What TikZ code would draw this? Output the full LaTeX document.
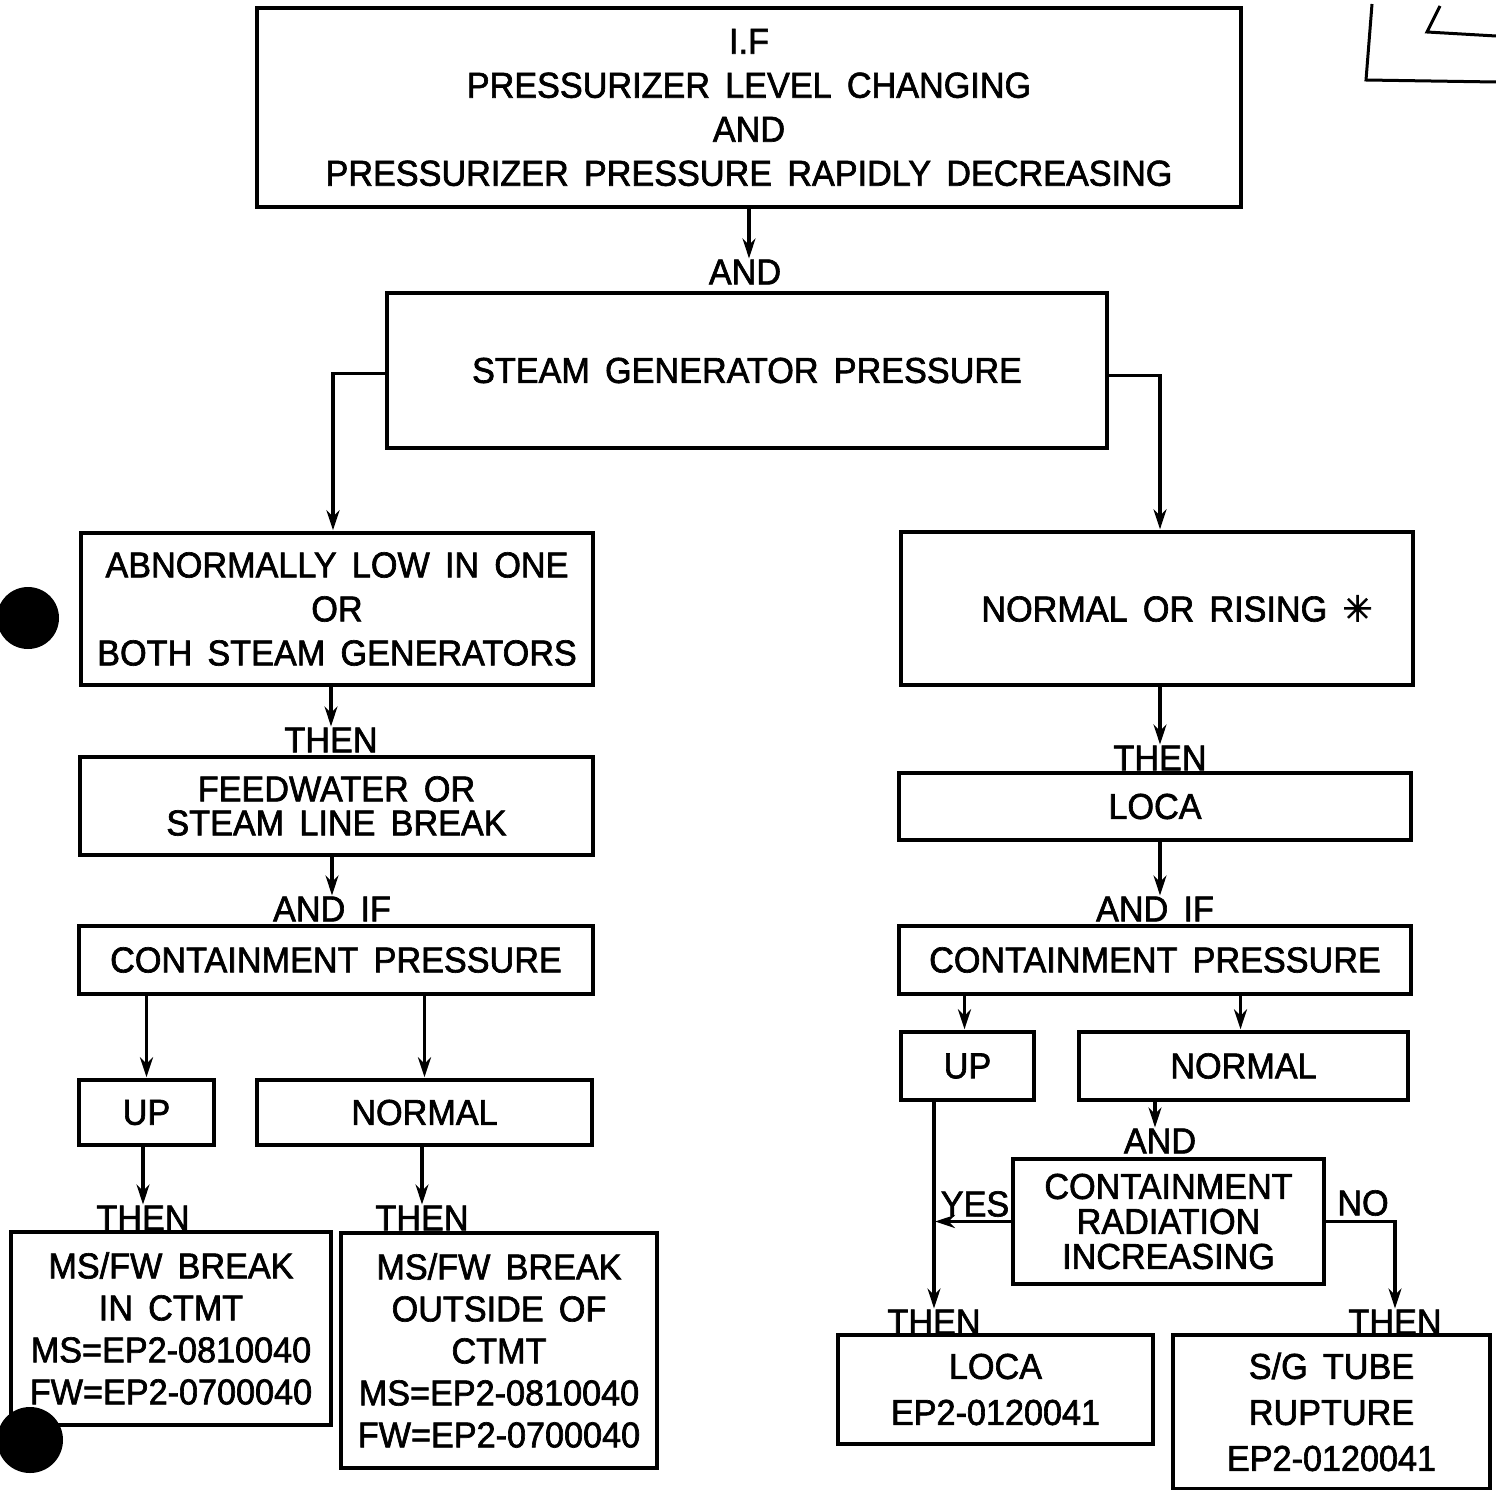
\documentclass[tikz,border=0pt]{standalone}
\usepackage{fontspec}
\setmainfont{Liberation Sans}[FakeStretch=0.95, FakeBold=1.8, WordSpace=1.6]
\newfontfamily\symfont{DejaVu Sans}[FakeBold=2]
\usetikzlibrary{arrows.meta}
\newcommand\dgfont{\fontsize{36}{44}\selectfont}
\begin{document}
\begin{tikzpicture}[x=1pt,y=-1pt,
  box/.style={draw, line width=3.4pt, inner sep=0pt, align=center, font=\dgfont},
  lbl/.style={inner sep=0pt, font=\dgfont},
  arr/.style={line width=3.2pt, -{Stealth[length=20pt,width=13pt]}, shorten >=1pt},
  ln/.style={line width=3.2pt},
  blob/.style={fill=black}]
\useasboundingbox (0,0) rectangle (1496,1490);
% top
\node[box, minimum width=984pt, minimum height=199pt] (top) at (749,107.5)
  {I.F\\PRESSURIZER LEVEL CHANGING\\AND\\PRESSURIZER PRESSURE RAPIDLY DECREASING};
\node[lbl] (and1) at (745,272) {AND};
\node[box, minimum width=720pt, minimum height=155pt] (sg) at (747,370.5) {STEAM GENERATOR PRESSURE};
\draw[arr] (top.south) -- (top.south |- and1.north);
% left branch
\node[box, minimum width=512pt, minimum height=152pt] (l1) at (337,609)
  {ABNORMALLY LOW IN ONE\\OR\\BOTH STEAM GENERATORS};
\draw[arr] ([yshift=-3pt]sg.west) -| ([xshift=-4pt]l1.north);
\node[lbl] (then1) at (331,740) {THEN};
\draw[arr] (l1.south -| then1) -- (then1.north);
\node[box, minimum width=513pt, minimum height=98pt, font=\fontsize{36}{34}\selectfont] (l2) at (336.5,806)
  {FEEDWATER OR\\STEAM LINE BREAK};
\node[lbl] (andif1) at (332,909) {AND IF};
\draw[arr] (l2.south -| andif1) -- (andif1.north);
\node[box, minimum width=514pt, minimum height=68pt] (l3) at (336,960) {CONTAINMENT PRESSURE};
\node[box, minimum width=135pt, minimum height=65pt] (l4a) at (146.5,1112.5) {UP};
\node[box, minimum width=335pt, minimum height=65pt] (l4b) at (424.5,1112.5) {NORMAL};
\draw[arr] (l3.south -| l4a) -- (l4a.north);
\draw[arr] (l3.south -| l4b) -- (l4b.north);
\node[lbl] (then2) at (143,1218) {THEN};
\node[lbl] (then3) at (422,1218) {THEN};
\draw[arr] (l4a.south -| then2) -- (then2.north);
\draw[arr] (l4b.south -| then3) -- (then3.north);
\node[box, minimum width=320pt, minimum height=193pt, font=\fontsize{36}{42}\selectfont] (l5a) at (171,1328.5)
  {MS/FW BREAK\\IN CTMT\\MS=EP2-0810040\\FW=EP2-0700040};
\node[box, minimum width=316pt, minimum height=235pt, font=\fontsize{36}{42}\selectfont] (l5b) at (499,1350.5)
  {MS/FW BREAK\\OUTSIDE OF\\CTMT\\MS=EP2-0810040\\FW=EP2-0700040};
% right branch
\node[box, minimum width=512pt, minimum height=153pt] (r1) at (1157,608.5)
  {\hspace*{40pt}NORMAL OR RISING {\symfont ✳}};
\draw[arr] ([yshift=-5pt]sg.east) -| ([xshift=3pt]r1.north);
\node[lbl] (then4) at (1160,758) {THEN};
\draw[arr] (r1.south -| then4) -- (then4.north);
\node[box, minimum width=512pt, minimum height=67pt] (r2) at (1155,806.5) {LOCA};
\node[lbl] (andif2) at (1155,909) {AND IF};
\draw[arr] ([xshift=5pt]r2.south -| andif2) -- ([xshift=5pt]andif2.north);
\node[box, minimum width=512pt, minimum height=68pt] (r3) at (1155,960) {CONTAINMENT PRESSURE};
\node[box, minimum width=133pt, minimum height=68pt] (r4a) at (967.5,1066) {UP};
\node[box, minimum width=329pt, minimum height=68pt] (r4b) at (1243.5,1066) {NORMAL};
\draw[arr] ([xshift=-3pt]r3.south -| r4a) -- ([xshift=-3pt]r4a.north);
\draw[arr] ([xshift=-3pt]r3.south -| r4b) -- ([xshift=-3pt]r4b.north);
\node[lbl] (and2) at (1160,1141) {AND};
\draw[arr] ([xshift=-5pt]r4b.south -| and2) -- ([xshift=-5pt]and2.north);
\node[box, minimum width=311pt, minimum height=125pt, font=\fontsize{36}{35}\selectfont] (r5) at (1168.5,1221.5)
  {CONTAINMENT\\RADIATION\\INCREASING};
\node[lbl] (then5) at (934,1322) {THEN};
\node[lbl] (then6) at (1395,1322) {THEN};
\draw[arr] (r4a.south -| then5) -- (then5.north);
\draw[arr] (r5.west) -- (r5.west -| then5);
\node[lbl] (yes) at (975,1204) {YES};
\draw[arr] (r5.east) -| (then6.north);
\node[lbl] (no) at (1363,1203) {NO};
\node[box, minimum width=315pt, minimum height=109pt, font=\fontsize{36}{46}\selectfont] (r6a) at (995.5,1389.5)
  {LOCA\\EP2-0120041};
\node[box, minimum width=317pt, minimum height=154pt, font=\fontsize{36}{46}\selectfont] (r6b) at (1331.5,1412)
  {S/G TUBE\\RUPTURE\\EP2-0120041};
% scan marks
\fill[blob] (28,618) circle (31);
\fill[blob] (30,1440) circle (33);
\draw[line width=3pt] (1372,4) -- (1366,80) -- (1496,82);
\draw[line width=3pt] (1440,6) -- (1427,32) -- (1496,36);
\end{tikzpicture}
\end{document}
